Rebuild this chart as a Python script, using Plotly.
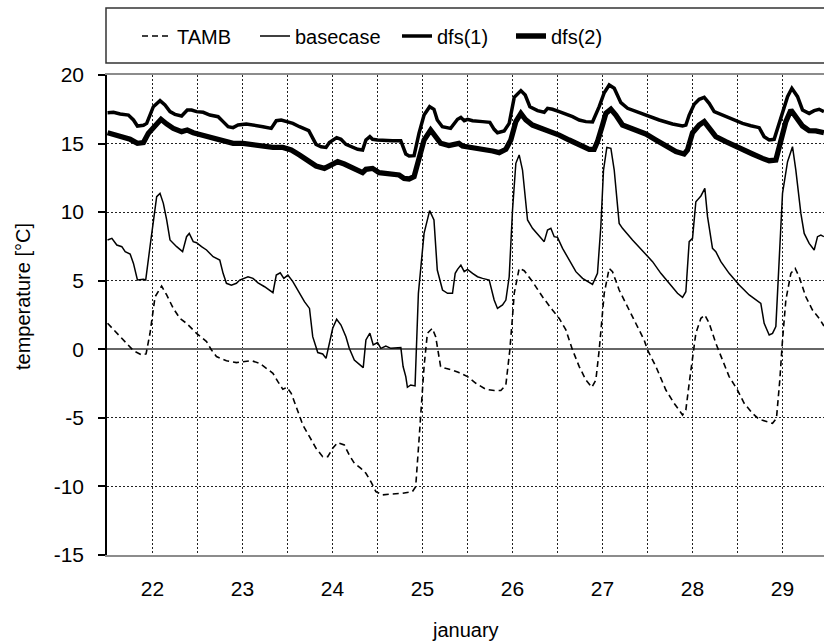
import plotly.graph_objects as go

# ---------------- data (day of January, temperature in °C) ----------------
TAMB_DAY = [21.500, 21.603, 21.714, 21.788, 21.880, 21.928, 21.972, 22.009, 22.028, 22.101,
            22.157, 22.231, 22.304, 22.378, 22.489, 22.600, 22.655, 22.710, 22.821, 22.932,
            23.006, 23.098, 23.190, 23.264, 23.338, 23.393, 23.448, 23.493, 23.541, 23.596,
            23.670, 23.744, 23.817, 23.891, 23.947, 24.002, 24.057, 24.131, 24.186, 24.242,
            24.315, 24.371, 24.426, 24.482, 24.555, 24.666, 24.777, 24.887, 24.924, 24.961,
            24.991, 25.017, 25.054, 25.109, 25.146, 25.201, 25.256, 25.330, 25.404, 25.500,
            25.593, 25.704, 25.796, 25.870, 25.926, 25.970, 26.000, 26.019, 26.074, 26.130,
            26.222, 26.333, 26.444, 26.519, 26.593, 26.667, 26.741, 26.815, 26.881, 26.926,
            26.963, 26.993, 27.019, 27.074, 27.111, 27.185, 27.278, 27.370, 27.463, 27.500,
            27.593, 27.704, 27.796, 27.889, 27.926, 27.963, 28.000, 28.037, 28.093, 28.137,
            28.185, 28.259, 28.333, 28.407, 28.500, 28.574, 28.667, 28.741, 28.833, 28.889,
            28.933, 28.970, 29.000, 29.037, 29.093, 29.141, 29.185, 29.259, 29.333, 29.407,
            29.460]
TAMB_T = [1.90, 1.17, 0.44, -0.10, -0.41, -0.34, 1.17, 3.11, 3.83, 4.61,
          3.96, 2.98, 2.25, 1.89, 1.16, 0.56, -0.05, -0.53, -0.83, -0.97,
          -0.90, -0.83, -1.02, -1.39, -1.75, -2.36, -2.92, -2.77, -3.21, -4.18,
          -5.52, -6.37, -7.22, -7.83, -7.83, -7.22, -6.81, -6.98, -7.71, -8.31,
          -8.68, -9.04, -9.65, -10.38, -10.62, -10.55, -10.50, -10.38, -10.02, -6.61,
          -3.70, -1.26, 1.17, 1.53, 0.92, -1.26, -1.39, -1.51, -1.70, -1.99,
          -2.48, -2.92, -3.01, -3.01, -2.60, -0.05, 2.38, 4.08, 5.90, 5.73,
          4.93, 3.83, 2.86, 2.25, 1.41, -0.05, -1.26, -2.24, -2.77, -2.24,
          -0.05, 2.38, 4.08, 5.90, 5.66, 4.32, 3.10, 1.89, 0.67, -0.05,
          -1.26, -2.97, -3.94, -4.79, -4.42, -2.48, -0.53, 1.17, 2.26, 2.50,
          1.90, 0.44, -0.78, -1.99, -2.97, -3.94, -4.67, -5.11, -5.28, -5.40,
          -5.03, -2.24, 0.68, 3.59, 5.54, 5.90, 5.29, 3.83, 2.86, 2.25,
          1.70]

BASE_DAY = [21.500, 21.548, 21.603, 21.659, 21.696, 21.751, 21.788, 21.832, 21.899, 21.924,
            21.972, 22.009, 22.046, 22.083, 22.120, 22.157, 22.194, 22.268, 22.334, 22.378,
            22.408, 22.452, 22.489, 22.544, 22.600, 22.673, 22.747, 22.784, 22.821, 22.876,
            22.932, 22.969, 23.061, 23.116, 23.172, 23.245, 23.338, 23.375, 23.419, 23.459,
            23.504, 23.559, 23.633, 23.688, 23.744, 23.780, 23.836, 23.891, 23.928, 23.965,
            24.002, 24.046, 24.094, 24.149, 24.186, 24.242, 24.297, 24.341, 24.371, 24.415,
            24.452, 24.500, 24.537, 24.592, 24.648, 24.722, 24.759, 24.784, 24.814, 24.832,
            24.869, 24.917, 24.954, 25.017, 25.079, 25.127, 25.164, 25.222, 25.278, 25.333,
            25.363, 25.389, 25.426, 25.463, 25.500, 25.556, 25.611, 25.667, 25.741, 25.796,
            25.833, 25.889, 25.926, 25.963, 26.000, 26.037, 26.074, 26.111, 26.167, 26.222,
            26.296, 26.352, 26.389, 26.426, 26.463, 26.500, 26.556, 26.630, 26.704, 26.778,
            26.833, 26.889, 26.944, 26.981, 27.011, 27.048, 27.093, 27.130, 27.185, 27.222,
            27.333, 27.481, 27.556, 27.648, 27.741, 27.833, 27.889, 27.926, 27.963, 28.000,
            28.037, 28.093, 28.137, 28.167, 28.222, 28.259, 28.315, 28.407, 28.519, 28.630,
            28.759, 28.796, 28.852, 28.889, 28.926, 28.963, 29.000, 29.056, 29.111, 29.148,
            29.204, 29.241, 29.296, 29.352, 29.389, 29.426, 29.460]
BASE_T = [7.97, 8.09, 7.60, 7.48, 7.12, 6.95, 6.26, 5.05, 5.10, 5.05,
          7.48, 9.30, 11.13, 11.37, 10.64, 9.43, 7.97, 7.48, 7.12, 8.21,
          8.45, 7.85, 7.77, 7.48, 7.24, 6.75, 6.51, 5.54, 4.81, 4.68,
          4.81, 5.05, 5.29, 5.17, 4.85, 4.56, 4.13, 5.41, 5.58, 5.17,
          5.41, 4.93, 4.08, 3.47, 2.98, 0.92, -0.24, -0.34, -0.66, 0.44,
          1.53, 2.19, 1.77, 0.92, 0.07, -0.78, -1.07, -1.34, 0.68, 1.17,
          0.32, 0.49, 0.07, 0.24, 0.07, 0.07, 0.12, -1.26, -1.99, -2.77,
          -2.60, -2.67, 4.08, 8.45, 10.11, 9.43, 5.78, 4.32, 4.08, 4.08,
          5.54, 5.83, 6.14, 5.66, 5.83, 5.54, 5.29, 5.17, 5.05, 3.59,
          2.98, 3.23, 3.59, 5.29, 10.15, 13.56, 14.17, 13.07, 9.43, 8.82,
          8.26, 7.85, 8.70, 8.82, 8.21, 8.16, 7.36, 6.51, 5.66, 5.17,
          4.93, 4.73, 5.54, 8.94, 13.07, 14.72, 14.65, 13.07, 9.18, 8.82,
          7.97, 6.87, 6.39, 5.54, 4.81, 4.08, 3.79, 4.20, 7.85, 8.09,
          10.76, 11.18, 11.73, 9.67, 7.36, 7.12, 6.39, 5.54, 4.68, 3.96,
          3.35, 1.89, 1.04, 1.16, 1.65, 6.51, 11.37, 13.68, 14.77, 13.07,
          9.91, 8.45, 7.72, 7.24, 8.21, 8.33, 8.21]

DFS1_DAY = [21.500, 21.566, 21.640, 21.732, 21.788, 21.832, 21.899, 21.935, 22.009, 22.083,
            22.138, 22.194, 22.249, 22.323, 22.386, 22.434, 22.489, 22.563, 22.637, 22.729,
            22.784, 22.840, 22.895, 22.950, 23.042, 23.135, 23.227, 23.319, 23.375, 23.430,
            23.504, 23.559, 23.633, 23.736, 23.817, 23.873, 23.928, 23.965, 24.046, 24.094,
            24.149, 24.223, 24.279, 24.334, 24.371, 24.415, 24.445, 24.500, 24.574, 24.666,
            24.758, 24.814, 24.851, 24.906, 24.961, 25.017, 25.079, 25.127, 25.164, 25.220,
            25.312, 25.389, 25.426, 25.463, 25.500, 25.556, 25.667, 25.748, 25.796, 25.833,
            25.907, 25.963, 26.019, 26.093, 26.141, 26.193, 26.278, 26.352, 26.389, 26.444,
            26.519, 26.593, 26.667, 26.741, 26.815, 26.889, 26.963, 27.019, 27.074, 27.130,
            27.204, 27.278, 27.407, 27.519, 27.630, 27.778, 27.889, 27.926, 27.963, 28.019,
            28.074, 28.130, 28.185, 28.241, 28.333, 28.444, 28.556, 28.648, 28.741, 28.796,
            28.852, 28.907, 28.981, 29.056, 29.104, 29.167, 29.222, 29.296, 29.352, 29.407,
            29.460]
DFS1_T = [17.25, 17.28, 17.16, 17.08, 16.72, 16.28, 16.33, 16.47, 17.69, 18.13,
          17.81, 17.33, 17.13, 17.01, 17.45, 17.45, 17.33, 17.28, 17.08, 16.96,
          16.60, 16.23, 16.16, 16.35, 16.43, 16.35, 16.23, 16.11, 16.67, 16.72,
          16.60, 16.47, 16.23, 15.94, 14.94, 14.77, 14.72, 15.07, 15.43, 15.31,
          14.94, 14.72, 14.58, 14.53, 15.26, 15.50, 15.31, 15.26, 15.21, 15.21,
          15.21, 14.24, 14.09, 14.12, 15.75, 17.08, 17.69, 17.50, 16.72, 16.23,
          16.11, 16.77, 16.91, 16.67, 16.77, 16.67, 16.60, 16.55, 16.04, 15.79,
          15.92, 16.47, 18.37, 18.86, 18.54, 17.69, 17.40, 17.28, 17.57, 17.50,
          17.33, 17.16, 16.96, 16.72, 16.60, 16.57, 17.69, 18.71, 19.27, 19.03,
          17.98, 17.57, 17.25, 17.03, 16.72, 16.43, 16.28, 16.35, 17.08, 17.86,
          18.23, 18.37, 17.93, 17.33, 17.08, 16.77, 16.47, 16.30, 16.16, 15.50,
          15.26, 15.31, 16.96, 18.42, 19.03, 18.42, 17.45, 17.20, 17.40, 17.50,
          17.33]

DFS2_DAY = [21.500, 21.585, 21.677, 21.751, 21.832, 21.899, 21.954, 22.028, 22.094, 22.157,
            22.231, 22.323, 22.386, 22.452, 22.563, 22.673, 22.784, 22.895, 23.006, 23.116,
            23.227, 23.338, 23.448, 23.541, 23.633, 23.725, 23.817, 23.910, 23.965, 24.057,
            24.131, 24.205, 24.279, 24.334, 24.371, 24.445, 24.518, 24.629, 24.740, 24.795,
            24.851, 24.906, 24.961, 25.017, 25.090, 25.146, 25.201, 25.293, 25.404, 25.444,
            25.556, 25.667, 25.778, 25.852, 25.926, 25.981, 26.037, 26.093, 26.148, 26.222,
            26.333, 26.444, 26.519, 26.630, 26.741, 26.852, 26.907, 26.944, 27.000, 27.037,
            27.093, 27.148, 27.222, 27.333, 27.481, 27.593, 27.704, 27.815, 27.907, 27.944,
            28.000, 28.074, 28.130, 28.185, 28.259, 28.370, 28.519, 28.667, 28.778, 28.852,
            28.926, 28.981, 29.037, 29.093, 29.148, 29.222, 29.296, 29.370, 29.460]
DFS2_T = [15.79, 15.62, 15.45, 15.31, 15.02, 15.07, 15.75, 16.35, 16.77, 16.43,
          16.11, 15.87, 15.99, 15.79, 15.62, 15.43, 15.19, 15.02, 15.02, 14.89,
          14.82, 14.72, 14.72, 14.53, 14.17, 13.80, 13.36, 13.19, 13.36, 13.68,
          13.51, 13.27, 13.00, 12.88, 13.12, 13.19, 12.88, 12.78, 12.71, 12.46,
          12.42, 12.59, 13.80, 15.26, 15.99, 15.55, 15.02, 14.85, 15.02, 14.82,
          14.72, 14.58, 14.46, 14.34, 14.58, 15.26, 16.60, 17.20, 16.72, 16.35,
          16.11, 15.87, 15.62, 15.26, 14.89, 14.58, 14.58, 15.14, 16.35, 17.20,
          17.50, 17.08, 16.35, 16.04, 15.70, 15.26, 14.82, 14.41, 14.24, 14.53,
          15.79, 16.35, 16.60, 16.11, 15.50, 15.14, 14.65, 14.24, 13.92, 13.75,
          13.80, 15.26, 16.60, 17.45, 17.01, 16.28, 15.94, 15.92, 15.79]

SERIES_NAMES = ["TAMB", "basecase", "dfs(1)", "dfs(2)"]
TICK_DAYS = [22, 23, 24, 25, 26, 27, 28, 29]
TICK_LABELS = ["22", "23", "24", "25", "26", "27", "28", "29"]
Y_TICKS = [-15, -10, -5, 0, 5, 10, 15, 20]
Y_TICK_LABELS = ["-15", "-10", "-5", "0", "5", "10", "15", "20"]

# ---------------- figure ----------------
W, H = 824, 644
L, R, T, B = 107, 0, 75, 89
PW, PH = W - L - R, H - T - B

def px(xp):  # pixel -> paper x
    return (xp - L) / PW

def py(yp):  # pixel -> paper y
    return (H - B - yp) / PH

FONT = "Liberation Sans, Arial, sans-serif"

fig = go.Figure()
styles = [
    dict(x=TAMB_DAY, y=TAMB_T, line=dict(color="black", width=1.6, dash="6px,4px"), legend="legend"),
    dict(x=BASE_DAY, y=BASE_T, line=dict(color="black", width=1.5), legend="legend2"),
    dict(x=DFS1_DAY, y=DFS1_T, line=dict(color="black", width=3.5), legend="legend3"),
    dict(x=DFS2_DAY, y=DFS2_T, line=dict(color="black", width=5.3), legend="legend4"),
]
for name, st in zip(SERIES_NAMES, styles):
    fig.add_trace(go.Scatter(x=st["x"], y=st["y"], mode="lines", name=name,
                             line=st["line"], legend=st["legend"]))

leg_common = dict(orientation="h", xanchor="left", yanchor="middle", y=py(36),
                  bgcolor="rgba(0,0,0,0)", borderwidth=0,
                  font=dict(family=FONT, size=20, color="black"))
leg_x = [137, 255, 397, 511]
fig.update_layout(
    legend=dict(x=px(leg_x[0]), **leg_common),
    legend2=dict(x=px(leg_x[1]), **leg_common),
    legend3=dict(x=px(leg_x[2]), **leg_common),
    legend4=dict(x=px(leg_x[3]), **leg_common),
)

grid_dash = "2px,2px"
fig.update_layout(
    width=W, height=H,
    margin=dict(l=L, r=R, t=T, b=B, pad=0),
    paper_bgcolor="white", plot_bgcolor="white",
    font=dict(family=FONT, size=20, color="black"),
    xaxis=dict(range=[21.494, 29.461], tickmode="array", tickvals=TICK_DAYS, ticktext=TICK_LABELS,
               showgrid=True, gridcolor="#222222", griddash=grid_dash, gridwidth=1,
               minor=dict(dtick=0.5, tick0=21.5, showgrid=True, gridcolor="#222222",
                          griddash=grid_dash, gridwidth=1),
               showline=True, linecolor="#8c8c8c", linewidth=1.5, mirror=True,
               ticks="", zeroline=False, ticklabelstandoff=14,
               tickfont=dict(size=21)),
    yaxis=dict(range=[-15, 20], tickmode="array", tickvals=Y_TICKS, ticktext=Y_TICK_LABELS,
               showgrid=True, gridcolor="#222222", griddash=grid_dash, gridwidth=1,
               zeroline=True, zerolinecolor="#666666", zerolinewidth=1.5,
               showline=True, linecolor="black", linewidth=1.5, mirror=False,
               ticks="outside", ticklen=7, tickcolor="black", tickwidth=1.5,
               ticklabelstandoff=10, tickfont=dict(size=21)),
    showlegend=True,
)

# legend frame
fig.add_shape(type="rect", xref="paper", yref="paper",
              x0=px(106), x1=px(830), y0=py(63), y1=py(8),
              line=dict(color="#333333", width=1.5), fillcolor="rgba(0,0,0,0)")

# axis titles
fig.add_annotation(text="temperature [°C]", xref="paper", yref="paper",
                   x=px(23), y=py(297), textangle=-90, showarrow=False,
                   xanchor="center", yanchor="middle", font=dict(size=20))
fig.add_annotation(text="january", xref="paper", yref="paper",
                   x=0.5, y=py(630), showarrow=False,
                   xanchor="center", yanchor="middle", font=dict(size=20))

fig.write_html("out.html")
